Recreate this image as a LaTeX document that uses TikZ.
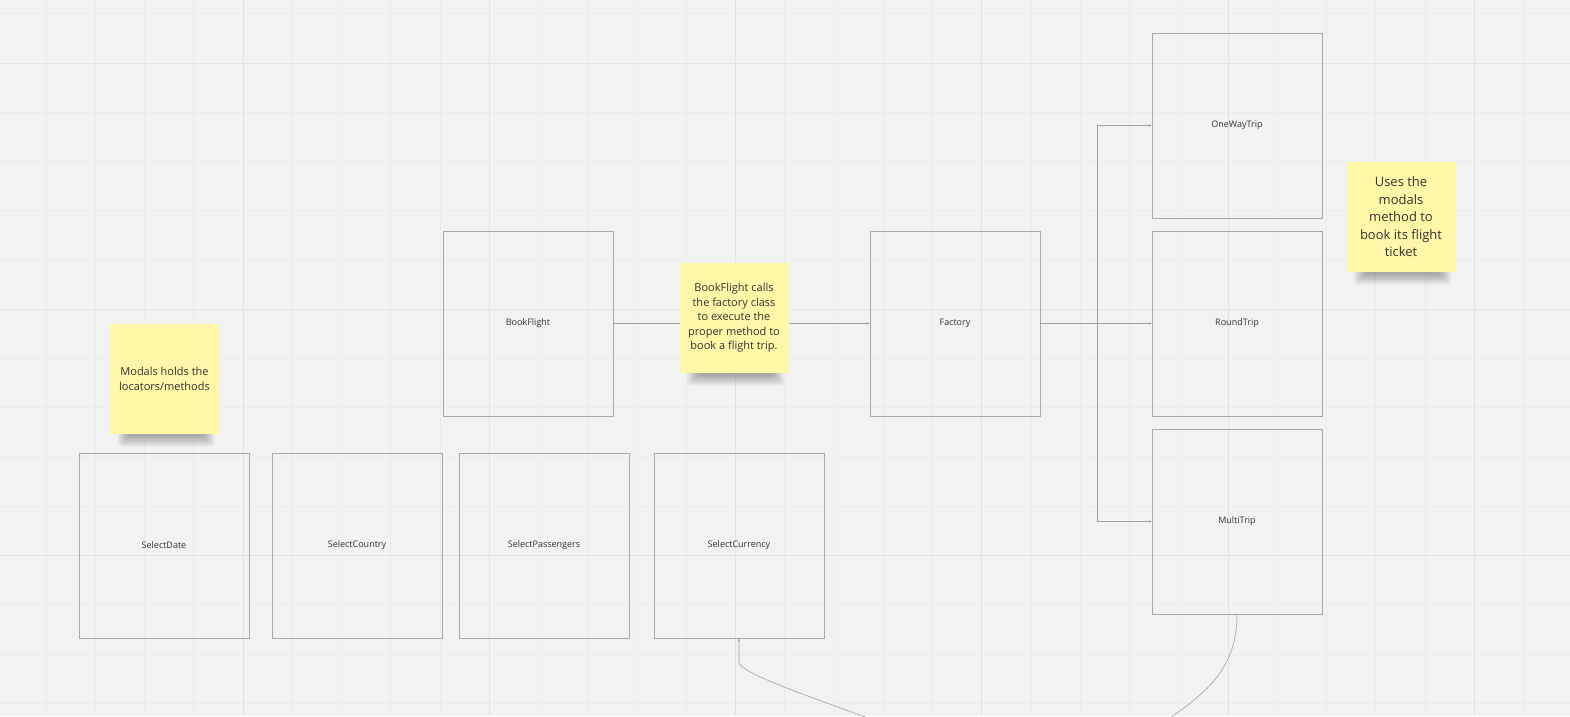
\documentclass[tikz,border=0pt]{standalone}
\usepackage{fontspec}
\setmainfont{Open Sans}
\usetikzlibrary{arrows.meta}
\definecolor{bgc}{HTML}{F2F2F2}
\definecolor{gridminor}{HTML}{EBEBEB}
\definecolor{gridmajor}{HTML}{E2E2E2}
\definecolor{boxline}{HTML}{A8A8A8}
\definecolor{conline}{HTML}{A0A0A0}
\definecolor{sticky}{HTML}{FFF7A8}
\definecolor{txt}{HTML}{333333}
\tikzset{
  classbox/.style={draw=boxline, line width=0.8pt, minimum width=170pt, minimum height=185pt,
    inner sep=0pt, text=txt, font=\fontsize{9}{11}\selectfont},
  note/.style={fill=sticky, minimum width=109pt, minimum height=110pt, inner sep=0pt,
    text=txt, align=center, font=\fontsize{11}{14.5}\selectfont},
  bignote/.style={note, font=\fontsize{13}{17.5}\selectfont},
  shadelayer/.style={fill=black, opacity=0.045, rounded corners=3pt},
  conn/.style={draw=conline, line width=0.6pt},
  tip/.style={-{Stealth[length=3pt,width=2.6pt]}},
}
\newcommand{\notesoftshadow}[3]{% left x, right x, bottom y
  \foreach \k in {1,...,8} {
    \fill[shadelayer] ({#1+6+\k*1.6},{#3-10}) rectangle ({#2-3-\k*1.6},{#3+14-\k*1.5});
  }
}
\begin{document}
\begin{tikzpicture}[x=1pt,y=-1pt]
\useasboundingbox (0,0) rectangle (1570,716);
\clip (0,0) rectangle (1570,716);
\fill[bgc] (0,0) rectangle (1570,716);
% grid
\foreach \i in {0,...,32} {
  \pgfmathsetmacro{\xx}{-3.25+49.25*\i}
  \draw[gridminor, line width=0.6pt] (\xx,0) -- (\xx,716);
}
\foreach \i in {0,...,14} {
  \pgfmathsetmacro{\yy}{13.75+49.25*\i}
  \draw[gridminor, line width=0.6pt] (0,\yy) -- (1570,\yy);
}
\foreach \i in {0,5,10,15,20,25,30} {
  \pgfmathsetmacro{\xx}{-3.25+49.25*\i}
  \draw[gridmajor, line width=0.8pt] (\xx,0) -- (\xx,716);
}
\foreach \i in {1,6,11} {
  \pgfmathsetmacro{\yy}{13.75+49.25*\i}
  \draw[gridmajor, line width=0.8pt] (0,\yy) -- (1570,\yy);
}

% boxes
\node[classbox] (oneway) at (1237,125.5) {OneWayTrip};
\node[classbox] (round) at (1237,323.5) {RoundTrip};
\node[classbox] (multi) at (1237,521.5) {MultiTrip};
\node[classbox] (book) at (528,323.5) {BookFlight};
\node[classbox] (factory) at (955,323.5) {Factory};
\node[classbox] (sdate) at (164,545.5) {SelectDate};
\node[classbox] (scountry) at (357,545.5) {SelectCountry};
\node[classbox] (spass) at (544,545.5) {SelectPassengers};
\node[classbox] (scur) at (739,545.5) {SelectCurrency};

% connectors
\draw[conn, tip] (book.east) -- (factory.west);
\draw[conn, tip] (factory.east) -- ++(57,0) |- (oneway.west);
\draw[conn, tip] (factory.east) -- (round.west);
\draw[conn, tip] (factory.east) -- ++(57,0) |- (multi.west);

\coordinate (endA) at (868,718);
\coordinate (endB) at (1170,718);
\draw[conn, {Stealth[length=3pt,width=2.6pt]}-] (scur.south) -- ++(0,24) .. controls +(0,10) and +(-60,-22) .. (endA);
\draw[conn] (multi.south) .. controls +(0,55) and +(35,-25) .. (endB);

% sticky notes shadows
\notesoftshadow{110}{219}{434}
\notesoftshadow{679.5}{788.5}{373}
\notesoftshadow{1346.5}{1455.5}{272}

% sticky notes
\node[note] (n1) at (164.5,379) {Modals holds the\\locators/methods};
\node[note] (n2) at (734,318) {BookFlight calls\\the factory class\\to execute the\\proper method to\\book a flight trip.};
\node[bignote] (n3) at (1401,217) {Uses the\\modals\\method to\\book its flight\\ticket};
\end{tikzpicture}
\end{document}
